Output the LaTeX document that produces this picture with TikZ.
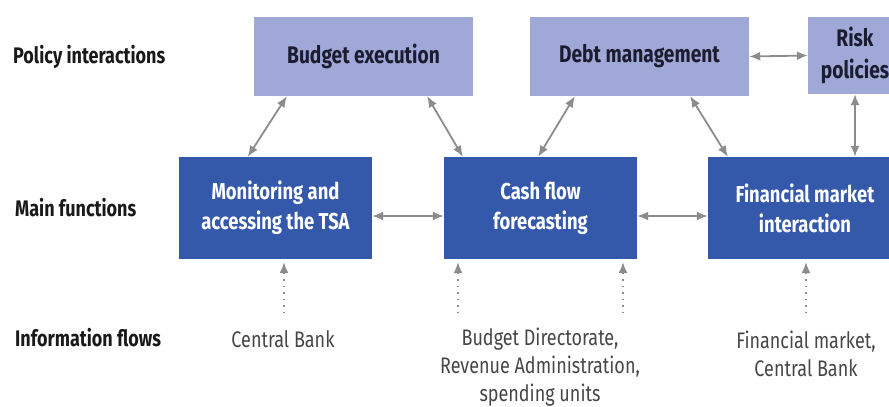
\documentclass[tikz,border=0pt]{standalone}
\usepackage{fontspec}
\setmainfont{Fira Sans}[FakeStretch=0.8]
\usetikzlibrary{arrows.meta,calc}
\definecolor{lightbox}{RGB}{160,168,216}
\definecolor{darkbox}{RGB}{52,88,170}
\definecolor{arrowgray}{RGB}{140,140,140}
\definecolor{navytext}{RGB}{28,28,48}
\definecolor{infotext}{RGB}{70,70,70}
\begin{document}
\begin{tikzpicture}[x=1pt,y=-1pt,
  policybox/.style={fill=lightbox,draw=none,inner sep=0pt,align=center,text=navytext,
    font=\fontsize{24}{32}\selectfont\bfseries},
  funcbox/.style={fill=darkbox,draw=none,inner sep=0pt,align=center,text=white,
    font=\fontsize{23}{30}\selectfont\bfseries},
  rowlabel/.style={anchor=west,inner sep=0pt,text=black!90,font=\fontsize{22.5}{26}\selectfont\bfseries},
  infolabel/.style={inner sep=0pt,align=center,text=infotext,font=\fontsize{22.5}{28}\selectfont},
  link/.style={draw=arrowgray,line width=1.8pt,{Latex[length=11pt,width=9pt]}-{Latex[length=11pt,width=9pt]}},
  infolink/.style={draw=arrowgray,line width=1.5pt,dash pattern=on 1.5pt off 5pt,-{Latex[length=11pt,width=9pt]}}
]
\useasboundingbox (0,0) rectangle (889,407);
\clip (0,0) rectangle (889,407);
% row labels
\node[rowlabel] (lpol) at (13,57) {Policy interactions};
\node[rowlabel] (lmain) at (15,208) {Main functions};
\node[rowlabel] (linfo) at (15,338) {Information flows};
% policy boxes
\node[policybox,minimum width=219pt,minimum height=79pt] (bud) at (363.5,56.5) {Budget execution};
\node[policybox,minimum width=219pt,minimum height=79pt] (debt) at (639.5,56.5) {Debt management};
\node[policybox,minimum width=94pt,minimum height=77pt] (risk) at (855,55.5) {Risk\\policies};
% main function boxes
\node[funcbox,minimum width=193pt,minimum height=102pt] (mon) at (275.5,208) {Monitoring and\\accessing the TSA};
\node[funcbox,minimum width=193pt,minimum height=102pt] (cash) at (540.5,208) {Cash flow\\forecasting};
\node[funcbox,minimum width=194pt,minimum height=102pt] (fin) at (805,208) {Financial market\\interaction};
% information flows
\node[infolabel] (icb) at (283,339) {Central Bank};
\node[infolabel] (ibd) at (540,367) {Budget Directorate,\\Revenue Administration,\\spending units};
\node[infolabel] (ifm) at (806,354) {Financial market,\\Central Bank};
% links
\draw[link] ($(bud.south west)+(33,0)$) -- ($(mon.north west)+(69,0)$);
\draw[link] ($(bud.south east)+(-46,0)$) -- ($(cash.north west)+(19,0)$);
\draw[link] ($(debt.south west)+(45,0)$) -- ($(cash.north east)+(-99,0)$);
\draw[link] ($(debt.south east)+(-59,0)$) -- ($(fin.north west)+(20,0)$);
\draw[link] (debt.east) -- (risk.west);
\draw[link] (risk.south) -- (risk.south |- fin.north);
\draw[link] ($(mon.east)+(0,8)$) -- ($(cash.west)+(0,8)$);
\draw[link] ($(cash.east)+(0,8)$) -- ($(fin.west)+(0,8)$);
% dotted info arrows
\coordinate (d1) at (284,313);
\coordinate (d2) at (458,313);
\coordinate (d3) at (623,313);
\coordinate (d4) at (806,313);
\draw[infolink] (d1) -- ($(d1 |- mon.south)+(0,3)$);
\draw[infolink] (d2) -- ($(d2 |- cash.south)+(0,3)$);
\draw[infolink] (d3) -- ($(d3 |- cash.south)+(0,3)$);
\draw[infolink] (d4) -- ($(d4 |- fin.south)+(0,3)$);
\end{tikzpicture}
\end{document}
